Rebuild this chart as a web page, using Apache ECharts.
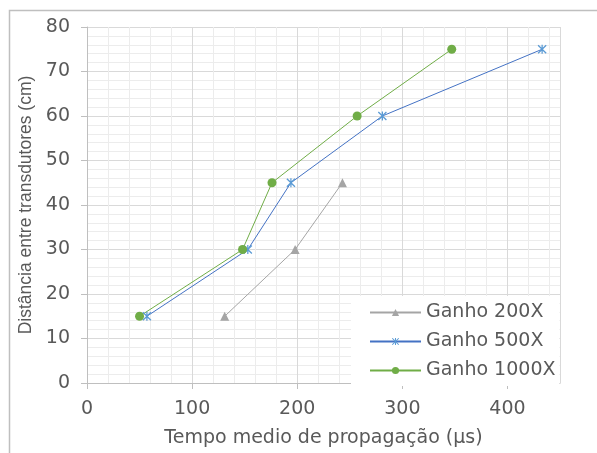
<!DOCTYPE html>
<html><head><meta charset="utf-8">
<script src="https://cdn.jsdelivr.net/npm/echarts@6/dist/echarts.min.js"></script>
<style>html,body{margin:0;padding:0;background:#fff}#c{width:597px;height:453px}</style>
</head><body><div id="c"></div>
<script>
const seriesNames = ['Ganho 200X', 'Ganho 500X', 'Ganho 1000X'];
const x200 = [131, 198, 243];
const y200 = [15, 30, 45];
const x500 = [57, 153, 194, 281, 433];
const y500 = [15, 30, 45, 60, 75];
const x1000 = [50, 148, 176, 257, 347];
const y1000 = [15, 30, 45, 60, 75];
const xTitle = 'Tempo medio de propagação (µs)';
const yTitle = 'Distância entre transdutores (cm)';

const pair = (xs, ys) => xs.map((x, i) => [x, ys[i]]);
const starPath = 'path://M0,1 L1,0 L5,4 L9,0 L10,1 L6,5 L10,9 L9,10 L5,6 L1,10 L0,9 L4,5 Z M4.3,0 L5.7,0 L5.7,10 L4.3,10 Z';
const HF = 'DejaVu Sans';
const VF = 'Liberation Sans';
const TC = '#595959';
const chart = echarts.init(document.getElementById('c'));
chart.setOption({
  animation: false,
  textStyle: { fontFamily: HF },
  graphic: [{ type: 'rect', shape: { x: 9.5, y: 10.5, width: 700, height: 600 }, style: { fill: 'none', stroke: '#bfbfbf', lineWidth: 1.5 }, z: -10 }],
  grid: { left: 87, top: 27, right: 37, bottom: 67 },
  xAxis: {
    type: 'value', min: 0, max: 450, interval: 100,
    name: xTitle, nameLocation: 'middle', nameGap: 46,
    nameTextStyle: { fontSize: 19, color: TC, fontFamily: HF },
    axisLine: { show: true, lineStyle: { color: '#bfbfbf' } },
    axisTick: { show: true, length: 6, lineStyle: { color: '#bfbfbf' } },
    axisLabel: { fontSize: 19, color: TC, margin: 17, fontFamily: HF, showMaxLabel: false },
    splitLine: { show: true, lineStyle: { color: '#d9d9d9', width: 1 } },
    minorTick: { show: false, splitNumber: 5 },
    minorSplitLine: { show: true, lineStyle: { color: '#ececec', width: 1 } }
  },
  yAxis: {
    type: 'value', min: 0, max: 80, interval: 10,
    name: yTitle, nameLocation: 'middle', nameGap: 46,
    nameTextStyle: { fontSize: 17.5, color: TC, fontFamily: VF },
    axisLine: { show: true, lineStyle: { color: '#bfbfbf' } },
    axisTick: { show: true, length: 6, lineStyle: { color: '#bfbfbf' } },
    axisLabel: { fontSize: 19, color: TC, margin: 17, fontFamily: HF },
    splitLine: { show: true, lineStyle: { color: '#d9d9d9', width: 1 } },
    minorTick: { show: false, splitNumber: 5 },
    minorSplitLine: { show: true, lineStyle: { color: '#ececec', width: 1 } }
  },
  legend: {
    orient: 'vertical', left: 351, top: 296,
    backgroundColor: '#fff', padding: [7, 4, 6, 18],
    itemWidth: 51, itemHeight: 9, itemGap: 10,
    textStyle: { fontSize: 19, color: TC, fontFamily: HF },
    data: seriesNames
  },
  series: [
    { name: seriesNames[0], type: 'line', data: pair(x200, y200), symbol: 'triangle', symbolSize: 9,
      lineStyle: { color: '#a5a5a5', width: 1 }, itemStyle: { color: '#a5a5a5' } },
    { name: seriesNames[1], type: 'line', data: pair(x500, y500), symbol: starPath, symbolSize: 9,
      lineStyle: { color: '#4472c4', width: 1 }, itemStyle: { color: '#5b9bd5' } },
    { name: seriesNames[2], type: 'line', data: pair(x1000, y1000), symbol: 'circle', symbolSize: 9,
      lineStyle: { color: '#70ad47', width: 1 }, itemStyle: { color: '#70ad47' } }
  ]
});
</script></body></html>
